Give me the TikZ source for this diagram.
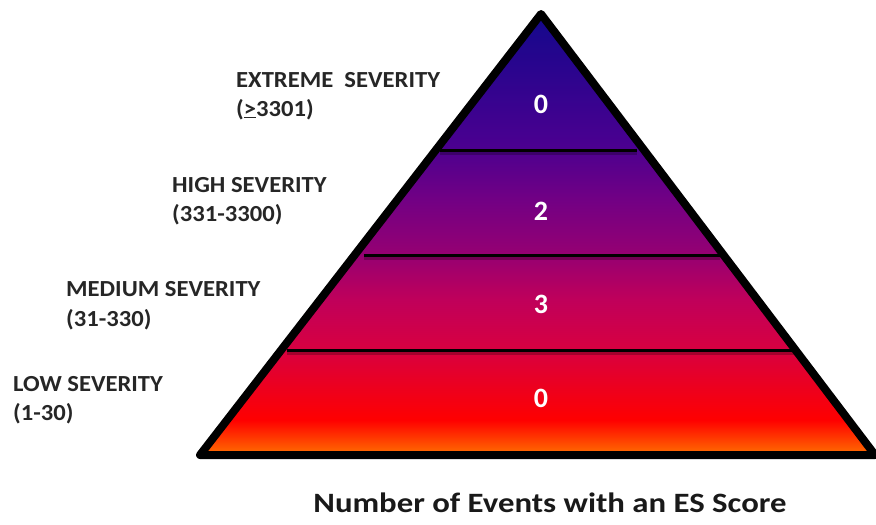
\documentclass[tikz,border=0pt]{standalone}
\usepackage{fontspec}
\setmainfont{Carlito}
\definecolor{cA}{HTML}{12088C}
\definecolor{cB}{HTML}{4A0090}
\definecolor{cC}{HTML}{720084}
\definecolor{cD}{HTML}{960072}
\definecolor{cE}{HTML}{C0005A}
\definecolor{cF}{HTML}{D80040}
\definecolor{cG}{HTML}{FF0000}
\definecolor{cH}{HTML}{FF8000}
\newcommand{\wide}[2]{\scalebox{#1}[1]{#2}}
\tikzset{
  lab/.style={anchor=base west, font=\bfseries\fontsize{23}{23}\selectfont, text=black!85, inner sep=0pt},
  num/.style={font=\bfseries\fontsize{28}{28}\selectfont, text=white},
  divider/.style={line width=3pt, black},
  dshadow/.style={line width=3pt, black, opacity=0.25},
}
\begin{document}
\begin{tikzpicture}[x=1pt,y=-1pt]
\useasboundingbox (0,0) rectangle (876,525);
\coordinate (apex) at (541,14);
\coordinate (bl) at (200,455);
\coordinate (br) at (875,455);
\begin{scope}
  \clip (apex) -- (br) -- (bl) -- cycle;
  \shade[top color=cA, bottom color=cB] (150,10) rectangle (880,145);
  \shade[top color=cB, bottom color=cC] (150,145) rectangle (880,200);
  \shade[top color=cC, bottom color=cD] (150,200) rectangle (880,255);
  \shade[top color=cD, bottom color=cE] (150,255) rectangle (880,300);
  \shade[top color=cE, bottom color=cF] (150,300) rectangle (880,350);
  \shade[top color=cF, bottom color=cG] (150,350) rectangle (880,420);
  \shade[top color=cG, bottom color=cH] (150,420) rectangle (880,460);
\end{scope}
\coordinate (l1a) at (440,150); \coordinate (l1b) at (637,150);
\coordinate (l2a) at (364,255); \coordinate (l2b) at (720,255);
\coordinate (l3a) at (287,350); \coordinate (l3b) at (797,350);
\coordinate (s1a) at (440,153); \coordinate (s1b) at (637,153);
\coordinate (s2a) at (364,258); \coordinate (s2b) at (720,258);
\coordinate (s3a) at (287,353); \coordinate (s3b) at (797,353);
\draw[dshadow] (s1a) -- (s1b);
\draw[dshadow] (s2a) -- (s2b);
\draw[dshadow] (s3a) -- (s3b);
\draw[divider] (l1a) -- (l1b);
\draw[divider] (l2a) -- (l2b);
\draw[divider] (l3a) -- (l3b);
\draw[line width=8pt, line join=round, line cap=round] (apex) -- (br) -- (bl) -- cycle;
\node[num] (n1) at (541,104) {0};
\node[num] (n2) at (541,211) {2};
\node[num] (n3) at (541,304) {3};
\node[num] (n4) at (541,398) {0};
\node[lab] (t1a) at (236,87) {\wide{1.07}{EXTREME\ \ SEVERITY}};
\node[lab] (t1b) at (236,116) {\wide{1.07}{(\underline{>}3301)}};
\node[lab] (t2a) at (172,192) {\wide{1.07}{HIGH SEVERITY}};
\node[lab] (t2b) at (172,221) {\wide{1.07}{(331-3300)}};
\node[lab] (t3a) at (66,296) {\wide{1.07}{MEDIUM SEVERITY}};
\node[lab] (t3b) at (66,326) {\wide{1.07}{(31-330)}};
\node[lab] (t4a) at (13,391) {\wide{1.07}{LOW SEVERITY}};
\node[lab] (t4b) at (13,420) {\wide{1.07}{(1-30)}};
\node[anchor=base, inner sep=0pt, font=\bfseries\fontsize{28}{28}\selectfont, text=black!90] (cap) at (550,512) {\wide{1.17}{Number of Events with an ES Score}};
\end{tikzpicture}
\end{document}
